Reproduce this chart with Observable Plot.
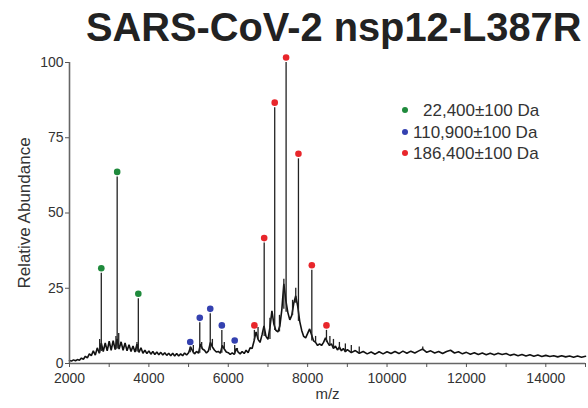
<!DOCTYPE html>
<html><head><meta charset="utf-8">
<script src="https://cdn.jsdelivr.net/npm/d3@7"></script>
<script src="https://cdn.jsdelivr.net/npm/@observablehq/plot@0.6"></script>
<style>
body{margin:0;background:#fff;font-family:"Liberation Sans",Arial,sans-serif;}
#wrap{position:relative;width:588px;height:408px;overflow:hidden}
#title{position:absolute;left:86px;top:5px;font-weight:bold;font-size:39.8px;color:#222;white-space:nowrap}
#legend{position:absolute;left:402px;top:100px;font-size:17px;color:#333;line-height:21.5px}
#legend span.d{display:inline-block;width:6px;height:6px;border-radius:50%;margin-right:5px;vertical-align:3px}
#chart{position:absolute;left:0;top:0}
</style></head><body>
<div id="wrap"><div id="chart"></div><div id="title">SARS-CoV-2 nsp12-L387R</div><div id="legend"></div></div>
<script>
// spectrum trace (m/z, % relative abundance)
const traceMz = [2000,2050,2100,2150,2200,2250,2300,2350,2400,2450,2500,2550,2600,2650,2700,2750,2800,2850,2900,2950,
 3000,3050,3100,3150,3200,3250,3300,3350,3400,3450,3500,3550,3600,3650,3700,3750,3800,3850,3900,3950,
 4000,4050,4100,4150,4200,4250,4300,4350,4400,4450,4500,4550,4600,4650,4700,4750,4800,4850,4900,4950,
 5000,5050,5100,5150,5200,5250,5300,5350,5400,5450,5500,5550,5600,5650,5700,5750,5800,5850,5900,5950,
 6000,6050,6100,6150,6200,6250,6300,6350,6400,6450,6500,6550,6600,6650,6700,6750,6800,6850,6900,6950,
 7000,7050,7100,7150,7200,7250,7300,7350,7400,7450,7500,7550,7600,7650,7700,7750,7800,7850,7900,7950,
 8000,8050,8100,8150,8200,8250,8300,8350,8400,8450,8500,8550,8600,8650,8700,8750,8800,8850,8900,8950,
 9000,9100,9200,9300,9400,9500,9600,9700,9800,9900,10000,10100,10200,10300,10400,10500,10600,10700,10800,10900,
 11000,11100,11200,11300,11400,11500,11600,11700,11800,11900,12000,12100,12200,12300,12400,12500,12600,12700,12800,12900,
 13000,13100,13200,13300,13400,13500,13600,13700,13800,13900,14000,14100,14200,14300,14400,14500,14600,14700,14800,14900,15000];
const traceInt = [1.0,0.8,1.2,0.9,1.3,1.1,1.8,1.4,2.4,1.9,3.2,2.6,4.2,2.8,5.2,3.4,6.8,4.0,6.8,4.2,
 7.4,4.4,7.6,4.6,8.2,4.8,7.2,4.4,6.8,4.2,6.2,4.0,5.8,3.8,6.4,3.7,5.2,3.4,4.4,3.3,
 4.2,3.1,4.0,3.0,3.8,2.9,3.7,2.8,3.6,2.7,3.4,2.6,3.4,2.5,3.3,2.5,3.2,2.6,3.5,2.8,
 3.6,5.5,4.2,3.2,4.0,3.4,6.5,4.8,4.4,3.5,4.2,7.0,5.5,4.5,3.8,4.0,3.4,6.0,4.8,3.8,
 3.6,3.0,3.5,3.0,5.0,3.8,3.2,4.0,3.3,4.4,3.6,5.2,5.0,7.5,10.5,8.0,7.0,9.5,12.5,9.0,
 8.0,12.0,17.5,13.0,11.0,10.5,12.5,18.0,26.5,21.0,17.0,14.5,16.0,20.0,22.5,19.0,14.0,11.0,9.0,8.5,
 10.0,11.5,9.5,7.5,7.0,6.0,6.5,6.0,7.0,8.5,7.0,6.0,6.5,5.0,5.8,4.5,5.5,4.2,5.0,3.9,
 4.6,3.6,4.3,3.4,4.0,3.2,3.8,3.1,3.9,3.2,3.9,3.3,4.0,3.3,4.1,3.4,4.1,3.5,4.2,4.8,
 3.7,4.2,3.5,4.0,3.3,4.0,4.4,3.5,3.9,3.2,3.7,3.1,3.6,3.0,3.5,2.9,3.4,2.9,3.4,3.0,
 3.3,2.7,3.1,2.6,3.0,2.5,2.9,2.4,2.8,2.3,2.7,2.3,2.6,2.2,2.6,2.2,2.5,2.1,2.5,2.1,2.4];

// annotated charge-state peaks
const greenMz = [2801,3201,3734];
const greenInt = [30,62,21.5];
const blueMz = [5042,5282,5546,5838,6162];
const blueInt = [5.5,13.5,16.5,11,6];
const redMz = [6658,6905,7170,7457,7768,8105,8474];
const redInt = [11,40,85,100,68,31,11];
// unlabelled minor peaks
const minorMz = [2760,3170,3240,3700,5120,5330,5600,5900,6230,6750,7050,7290,7400,7620,7700,8200,8560,8650,8800,8950,9100,9300,10900];
const minorInt = [8,9,10,7,6,7,8,7,5,12,15,16,28,21,25,9,9,8,7,6.5,6,5.5,5.5];

const legendLabels = ["22,400\u00b1100 Da","110,900\u00b1100 Da","186,400\u00b1100 Da"];
const colors = ["#1f8a3c","#3441b0","#e8262b"];
const xTicks = [2000,3000,4000,5000,6000,7000,8000,9000,10000,11000,12000,13000,14000,15000];
const yTicks = [0,25,50,75,100];

const trace = traceMz.map((x,i)=>({x, y:traceInt[i]}));
const baseAt = x => {
  const i = Math.max(1, Math.min(traceMz.length-1, d3.bisectLeft(traceMz, x)));
  return Math.min(traceInt[i-1], traceInt[i]);
};
const mk = (mz, it) => mz.map((x,i)=>({x, y:it[i], b:baseAt(x)}));
const green = mk(greenMz, greenInt), blue = mk(blueMz, blueInt), red = mk(redMz, redInt), minor = mk(minorMz, minorInt);
const allPeaks = [...green, ...blue, ...red, ...minor];

const chart = Plot.plot({
  width: 588, height: 408,
  marginTop: 62, marginBottom: 45, marginLeft: 69, marginRight: 3,
  style: {fontFamily: '"Liberation Sans", Arial, sans-serif', fontSize: "14px", color: "#333", background: "transparent"},
  x: {domain: [2000, 15000]},
  y: {domain: [0, 100]},
  marks: [
    Plot.line(trace, {x: "x", y: "y", stroke: "#111", strokeWidth: 1.6, strokeLinejoin: "miter"}),
    Plot.ruleX(allPeaks, {x: "x", y1: "b", y2: "y", stroke: "#222", strokeWidth: 1.3}),
    Plot.ruleY([0], {stroke: "#666", strokeWidth: 1.6}),
    Plot.ruleX([2000], {stroke: "#666", strokeWidth: 1.6}),
    Plot.axisX({ticks: xTicks, tickSize: 4, tickPadding: 6, stroke: "#555", tickFormat: d => d % 2000 === 0 ? String(d) : "", label: null}),
    Plot.axisY({ticks: yTicks, tickSize: 4, tickPadding: 2, stroke: "#555", label: null}),
    Plot.text(["m/z"], {frameAnchor: "bottom", dy: 35, fontSize: 15, fill: "#333"}),
    Plot.text(["Relative Abundance"], {frameAnchor: "left", textAnchor: "middle", dx: -45, rotate: -90, fontSize: 17, fill: "#333"}),
    Plot.dot(green, {x: "x", y: "y", dy: -5, r: 3.3, fill: colors[0]}),
    Plot.dot(blue, {x: "x", y: "y", dy: -5, r: 3.3, fill: colors[1]}),
    Plot.dot(red, {x: "x", y: "y", dy: -5, r: 3.3, fill: colors[2]})
  ]
});
document.getElementById("chart").appendChild(chart);

const lg = document.getElementById("legend");
legendLabels.forEach((t,i)=>{
  const row = document.createElement("div");
  row.innerHTML = `<span class="d" style="background:${colors[i]};margin-right:${i===0?15:5}px"></span>${t}`;
  lg.appendChild(row);
});
</script>
</body></html>
